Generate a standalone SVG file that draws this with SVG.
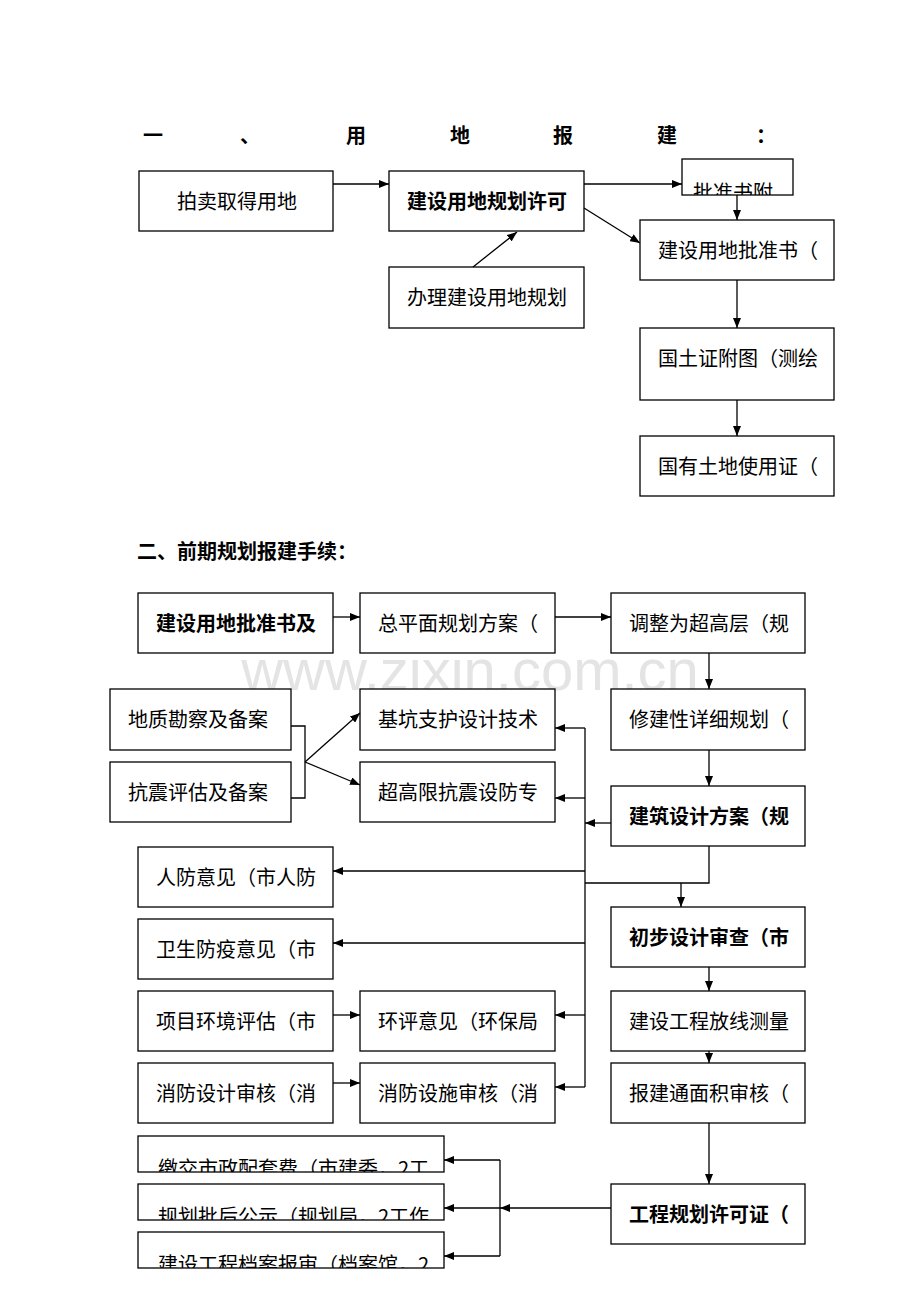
<svg xmlns="http://www.w3.org/2000/svg" width="920" height="1302" viewBox="0 0 920 1302">
<style>
.box{fill:#fff;stroke:#000;stroke-width:1.3}
.t{font-family:"Noto Sans CJK SC","Noto Sans",sans-serif;font-size:20px;fill:#000}
.b{font-weight:bold}
.ln{fill:none;stroke:#000;stroke-width:1.3}
.wm{font-family:"Liberation Sans",Arial,sans-serif;font-size:58px;fill:#e4e4e4}
</style>
<defs>
<marker id="ah" markerWidth="10" markerHeight="8" refX="10" refY="4" orient="auto" markerUnits="userSpaceOnUse">
<path d="M0,0 L10,4 L0,8 z" fill="#000"/>
</marker>
<clipPath id="cC"><rect x="682" y="159" width="111" height="36"/></clipPath>
<clipPath id="cK1"><rect x="138" y="1136" width="306" height="36"/></clipPath>
<clipPath id="cK2"><rect x="138" y="1184" width="306" height="36"/></clipPath>
<clipPath id="cK3"><rect x="138" y="1232" width="306" height="36"/></clipPath>
</defs>
<rect width="920" height="1302" fill="#fff"/>
<text class="wm" x="470" y="690" text-anchor="middle">www.zixin.com.cn</text>

<g id="title1" class="t b" font-size="19">
<text x="143" y="143">一</text><text x="240" y="143">、</text><text x="346" y="143">用</text><text x="450" y="143">地</text><text x="553" y="143">报</text><text x="657" y="143">建</text><text x="756" y="143">：</text>
</g>

<g id="n1"><rect class="box" x="139" y="171" width="194" height="60"/><text class="t" x="177" y="209">拍卖取得用地</text></g>
<g id="n2"><rect class="box" x="389" y="171" width="195" height="60"/><text class="t b" x="407" y="209">建设用地规划许可</text></g>
<g id="n3"><rect class="box" x="682" y="159" width="111" height="36"/><text class="t" x="693" y="200" clip-path="url(#cC)">批准书附</text></g>
<g id="n4"><rect class="box" x="640" y="220" width="194" height="60"/><text class="t" x="658" y="258">建设用地批准书（</text></g>
<g id="n5"><rect class="box" x="389" y="267" width="195" height="61"/><text class="t" x="407" y="305">办理建设用地规划</text></g>
<g id="n6"><rect class="box" x="640" y="328" width="194" height="72"/><text class="t" x="658" y="366">国土证附图（测绘</text></g>
<g id="n7"><rect class="box" x="640" y="436" width="194" height="60"/><text class="t" x="658" y="474">国有土地使用证（</text></g>

<text id="title2" class="t b" x="137" y="559" font-size="18">二、前期规划报建手续：</text>

<g id="m1"><rect class="box" x="138" y="593" width="195" height="60"/><text class="t b" x="156" y="631">建设用地批准书及</text></g>
<g id="m2"><rect class="box" x="360" y="593" width="195" height="60"/><text class="t" x="378" y="631">总平面规划方案（</text></g>
<g id="m3"><rect class="box" x="611" y="593" width="194" height="60"/><text class="t" x="629" y="631">调整为超高层（规</text></g>
<g id="m4"><rect class="box" x="110" y="689" width="181" height="61"/><text class="t" x="128" y="727">地质勘察及备案</text></g>
<g id="m5"><rect class="box" x="360" y="689" width="195" height="61"/><text class="t" x="378" y="727">基坑支护设计技术</text></g>
<g id="m6"><rect class="box" x="611" y="689" width="194" height="61"/><text class="t" x="629" y="727">修建性详细规划（</text></g>
<g id="m7"><rect class="box" x="110" y="762" width="181" height="60"/><text class="t" x="128" y="800">抗震评估及备案</text></g>
<g id="m8"><rect class="box" x="360" y="762" width="195" height="60"/><text class="t" x="378" y="800">超高限抗震设防专</text></g>
<g id="m9"><rect class="box" x="611" y="786" width="194" height="60"/><text class="t b" x="629" y="824">建筑设计方案（规</text></g>
<g id="m10"><rect class="box" x="138" y="847" width="195" height="60"/><text class="t" x="156" y="885">人防意见（市人防</text></g>
<g id="m11"><rect class="box" x="611" y="907" width="194" height="60"/><text class="t b" x="629" y="945">初步设计审查（市</text></g>
<g id="m12"><rect class="box" x="138" y="919" width="195" height="60"/><text class="t" x="156" y="957">卫生防疫意见（市</text></g>
<g id="m13"><rect class="box" x="138" y="991" width="195" height="60"/><text class="t" x="156" y="1029">项目环境评估（市</text></g>
<g id="m14"><rect class="box" x="360" y="991" width="195" height="60"/><text class="t" x="378" y="1029">环评意见（环保局</text></g>
<g id="m15"><rect class="box" x="611" y="991" width="194" height="60"/><text class="t" x="629" y="1029">建设工程放线测量</text></g>
<g id="m16"><rect class="box" x="138" y="1063" width="195" height="60"/><text class="t" x="156" y="1101">消防设计审核（消</text></g>
<g id="m17"><rect class="box" x="360" y="1063" width="195" height="60"/><text class="t" x="378" y="1101">消防设施审核（消</text></g>
<g id="m18"><rect class="box" x="611" y="1063" width="194" height="60"/><text class="t" x="629" y="1101">报建通面积审核（</text></g>
<g id="m19"><rect class="box" x="611" y="1184" width="194" height="60"/><text class="t b" x="629" y="1222">工程规划许可证（</text></g>
<g id="m20"><rect class="box" x="138" y="1136" width="306" height="36"/><text class="t" x="158" y="1176" clip-path="url(#cK1)">缴交市政配套费（市建委，2工</text></g>
<g id="m21"><rect class="box" x="138" y="1184" width="306" height="36"/><text class="t" x="158" y="1224" clip-path="url(#cK2)">规划批后公示（规划局，2工作</text></g>
<g id="m22"><rect class="box" x="138" y="1232" width="306" height="36"/><text class="t" x="158" y="1272" clip-path="url(#cK3)">建设工程档案报审（档案馆，2</text></g>

<g id="connectors" class="ln">
<path d="M333,184 H389" marker-end="url(#ah)"/>
<path d="M584,184 H682" marker-end="url(#ah)"/>
<path d="M737,195 V220" marker-end="url(#ah)"/>
<path d="M584,208 L640,243" marker-end="url(#ah)"/>
<path d="M473,267 L517,232" marker-end="url(#ah)"/>
<path d="M737,280 V328" marker-end="url(#ah)"/>
<path d="M737,400 V436" marker-end="url(#ah)"/>

<path d="M333,617 H360" marker-end="url(#ah)"/>
<path d="M555,617 H611" marker-end="url(#ah)"/>
<path d="M709,653 V689" marker-end="url(#ah)"/>
<path d="M709,750 V786" marker-end="url(#ah)"/>
<path d="M291,726 H305 V798 H291"/>
<path d="M305,762 L360,713" marker-end="url(#ah)"/>
<path d="M305,762 L360,785" marker-end="url(#ah)"/>
<path d="M585,728 V1087"/>
<path d="M585,728 H555" marker-end="url(#ah)"/>
<path d="M585,798 H555" marker-end="url(#ah)"/>
<path d="M611,823 H585" marker-end="url(#ah)"/>
<path d="M709,846 V883 H585"/>
<path d="M681,883 V907" marker-end="url(#ah)"/>
<path d="M585,871 H333" marker-end="url(#ah)"/>
<path d="M585,943 H333" marker-end="url(#ah)"/>
<path d="M585,1015 H555" marker-end="url(#ah)"/>
<path d="M585,1087 H555" marker-end="url(#ah)"/>
<path d="M333,1015 H360" marker-end="url(#ah)"/>
<path d="M333,1083 H360" marker-end="url(#ah)"/>
<path d="M709,967 V991" marker-end="url(#ah)"/>
<path d="M709,1051 V1063" marker-end="url(#ah)"/>
<path d="M709,1123 V1184" marker-end="url(#ah)"/>
<path d="M611,1208 H500" marker-end="url(#ah)"/>
<path d="M500,1160 V1256"/>
<path d="M500,1160 H444" marker-end="url(#ah)"/>
<path d="M500,1208 H444" marker-end="url(#ah)"/>
<path d="M500,1256 H444" marker-end="url(#ah)"/>
</g>
</svg>
